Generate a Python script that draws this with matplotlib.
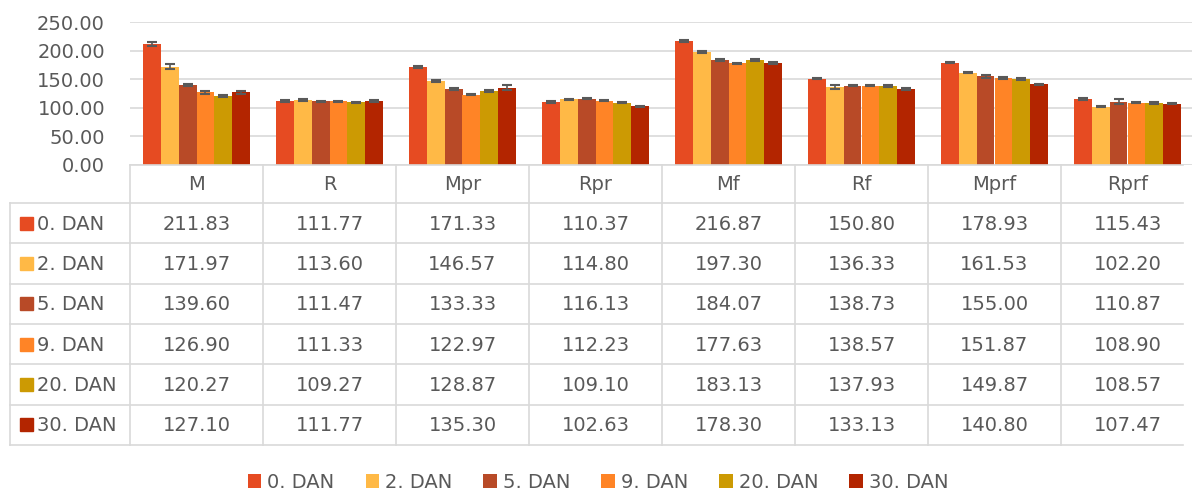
import matplotlib.pyplot as plt
import numpy as np

W, H = 1192, 495

categories = ['M', 'R', 'Mpr', 'Rpr', 'Mf', 'Rf', 'Mprf', 'Rprf']
series = ['0. DAN', '2. DAN', '5. DAN', '9. DAN', '20. DAN', '30. DAN']
colors = ['#E64B22', '#FFB946', '#B84A27', '#FF8426', '#CC9A03', '#B32500']

d0 = [211.83, 111.77, 171.33, 110.37, 216.87, 150.80, 178.93, 115.43]
d2 = [171.97, 113.60, 146.57, 114.80, 197.30, 136.33, 161.53, 102.20]
d5 = [139.60, 111.47, 133.33, 116.13, 184.07, 138.73, 155.00, 110.87]
d9 = [126.90, 111.33, 122.97, 112.23, 177.63, 138.57, 151.87, 108.90]
d20 = [120.27, 109.27, 128.87, 109.10, 183.13, 137.93, 149.87, 108.57]
d30 = [127.10, 111.77, 135.30, 102.63, 178.30, 133.13, 140.80, 107.47]
values = [d0, d2, d5, d9, d20, d30]

# error bars
e0 = [3.0, 1.2, 1.5, 1.2, 1.5, 1.2, 1.2, 1.5]
e2 = [4.0, 1.5, 1.5, 1.2, 1.2, 4.0, 1.2, 1.2]
e5 = [1.5, 1.2, 1.5, 1.5, 1.5, 1.2, 2.5, 4.0]
e9 = [3.0, 1.2, 1.2, 1.2, 1.2, 1.2, 1.2, 1.2]
e20 = [1.5, 1.2, 1.5, 1.2, 1.5, 1.5, 1.5, 1.5]
e30 = [2.5, 1.2, 5.0, 1.2, 1.5, 1.2, 1.5, 1.2]
errors = [e0, e2, e5, e9, e20, e30]

txt = '#595959'
grid = '#D9D9D9'
fs = 14

fig = plt.figure(figsize=(W / 100, H / 100), dpi=100)

# chart area
left, top, base = 130, 22, 165
colw = 133
ax = fig.add_axes([left / W, 1 - base / H, (W - left) / W, (base - top) / H])
x = np.arange(len(categories))
bw = 0.805 / len(series)
for i, (s, v, e, c) in enumerate(zip(series, values, errors, colors)):
    ax.bar(x + (i - 2.5) * bw, v, bw, yerr=e, color=c, label=s, zorder=2,
           error_kw=dict(ecolor='#595959', elinewidth=1.2, capsize=3.5, capthick=1.5, zorder=3))
ax.set_ylim(0, 250)
ax.set_xlim(-0.5, -0.5 + (W - left) / colw)
ax.set_yticks(np.arange(0, 251, 50))
ax.set_yticklabels([f'{t:.2f}' for t in np.arange(0, 251, 50)], color=txt, fontsize=fs)
ax.tick_params(axis='y', length=0, pad=18)
ax.set_xticks([])
ax.grid(axis='y', color=grid, linewidth=1.2, zorder=0)
for sp in ax.spines.values():
    sp.set_visible(False)

# data table under the chart
tab = fig.add_axes([0, 0, 1, 1])
tab.set_xlim(0, W)
tab.set_ylim(H, 0)
tab.axis('off')
x0, right = 10, 1183
hdr_bot = 203
rowh = 40.3
nrow = len(series)
bottom = hdr_bot + nrow * rowh
lc = dict(color=grid, linewidth=1.2)
tab.plot([left, right], [base, base], **lc)
for r in range(nrow + 1):
    y = hdr_bot + r * rowh
    tab.plot([x0, right], [y, y], **lc)
for k in range(len(categories)):
    xx = left + k * colw
    tab.plot([xx, xx], [base, bottom], **lc)
tab.plot([x0, x0], [hdr_bot, bottom], **lc)

for k, cat in enumerate(categories):
    tab.text(left + (k + 0.5) * colw, (base + hdr_bot) / 2 + 1, cat,
             ha='center', va='center', color=txt, fontsize=fs)
for r, (s, v, c) in enumerate(zip(series, values, colors)):
    yc = hdr_bot + (r + 0.5) * rowh
    tab.add_patch(plt.Rectangle((20, yc - 6.5), 13, 13, color=c))
    tab.text(37, yc + 1, s, ha='left', va='center', color=txt, fontsize=fs)
    for k, val in enumerate(v):
        tab.text(left + (k + 0.5) * colw, yc + 1, f'{val:.2f}',
                 ha='center', va='center', color=txt, fontsize=fs)

handles, labels = ax.get_legend_handles_labels()
fig.legend(handles, labels, loc='center', bbox_to_anchor=(598 / W, 1 - 482 / H),
           ncol=6, frameon=False, fontsize=fs, labelcolor=txt,
           handlelength=0.7, handleheight=0.7, handletextpad=0.3, columnspacing=1.6)

fig.savefig('out.png', dpi=100)
